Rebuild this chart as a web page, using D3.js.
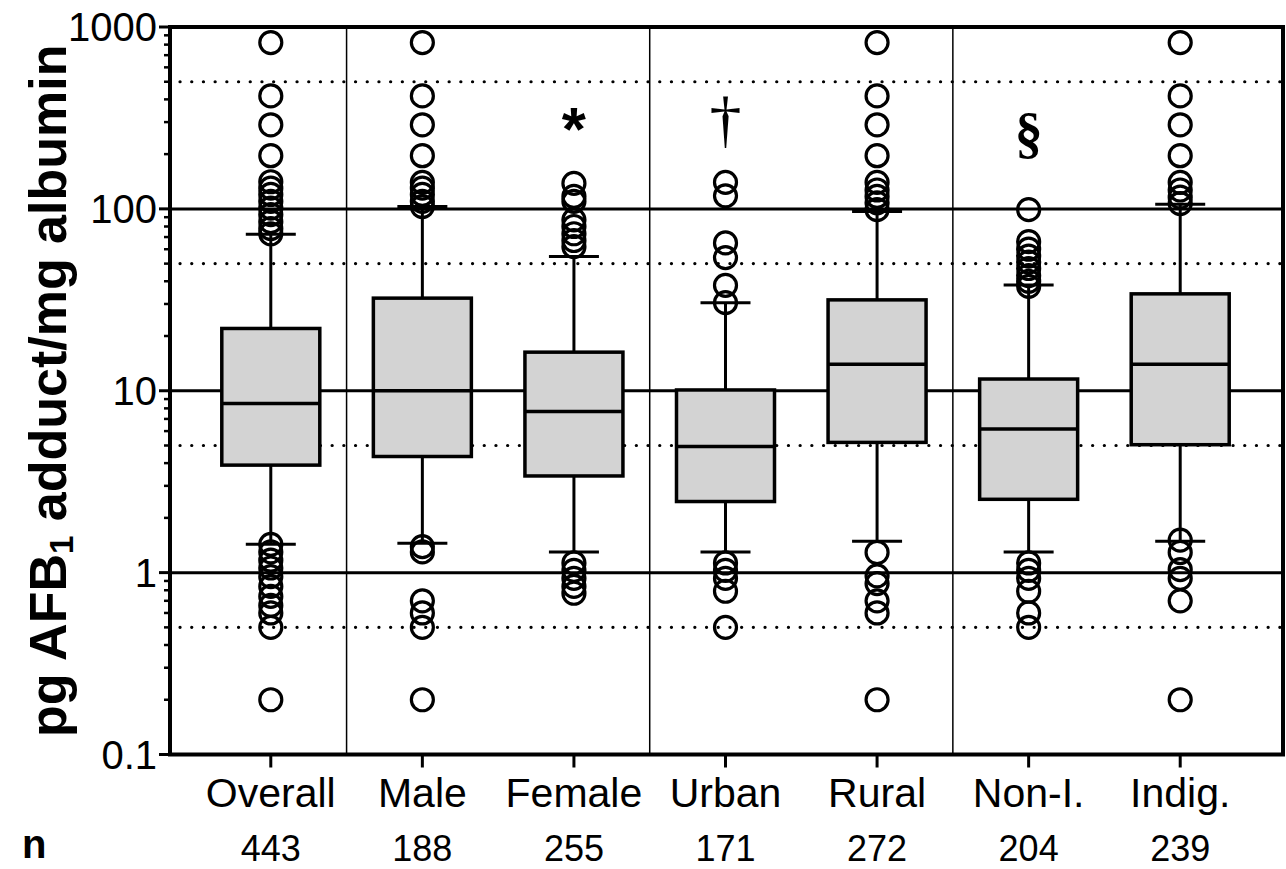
<!DOCTYPE html>
<html>
<head>
<meta charset="UTF-8" />
<title>AFB1 adduct box plot</title>
<script src="https://cdn.jsdelivr.net/npm/d3@7"></script>
<style>
  body, html { margin:0; padding:0; background:#fff; }
  svg text { font-family: "Liberation Sans", Arial, sans-serif; fill:#000; }
</style>
</head>
<body>
<svg id="chart" width="1286" height="869"></svg>
<script>
// ---- data ----
const categories = ["Overall", "Male", "Female", "Urban", "Rural", "Non-I.", "Indig."];
const nCounts    = [443, 188, 255, 171, 272, 204, 239];
const q1         = [3.9, 4.35, 3.4, 2.46, 5.2, 2.53, 5.05];
const medians    = [8.5, 10.0, 7.7, 4.93, 14.0, 6.17, 14.0];
const q3         = [22, 32.3, 16.3, 10.1, 31.6, 11.6, 34.1];
const whiskerLo  = [1.43, 1.45, 1.3, 1.3, 1.49, 1.3, 1.49];
const whiskerHi  = [72.6, 103, 54.7, 30.5, 96.7, 38.2, 106];
const outliersHi = [
  [821, 418, 290, 196, 141, 130, 120, 110, 101, 93, 85, 78, 73],
  [821, 418, 290, 196, 140, 130, 120, 110, 103],
  [138, 117, 110, 87, 80, 73, 67, 62],
  [140, 118, 65, 54, 38, 30.5],
  [821, 418, 290, 196, 140, 127, 117, 108, 99],
  [99, 66, 60, 55, 51, 47, 43, 40, 37.5],
  [821, 418, 290, 196, 140, 127, 116, 107]
];
const outliersLo = [
  [1.43, 1.3, 1.17, 1.06, 0.95, 0.84, 0.74, 0.66, 0.6, 0.5, 0.2],
  [1.39, 1.3, 0.7, 0.6, 0.5, 0.2],
  [1.13, 1.03, 0.93, 0.84, 0.77],
  [1.13, 1.03, 0.93, 0.79, 0.5],
  [1.29, 0.96, 0.87, 0.7, 0.6, 0.2],
  [1.13, 1.03, 0.93, 0.79, 0.6, 0.5],
  [1.51, 1.29, 1.04, 0.93, 0.7, 0.2]
];
const markers    = ["", "", "*", "\u2020", "", "\u00a7", ""];
const yTicks     = [0.1, 1, 10, 100, 1000];
const yTickText  = ["0.1", "1", "10", "100", "1000"];
const solidGrid  = [1, 10, 100];
const dottedGrid = [0.5, 5, 50, 500];
const separators = [0, 2, 4];   // a divider after these category indices

// ---- layout ----
const pLeft = 170, pRight = 1283, pTop = 27, pBottom = 754.5;
const svg = d3.select("#chart");

const y = d3.scaleLog().domain([0.1, 1000]).range([pBottom, pTop]);
const x = d3.scalePoint().domain(categories).range([pLeft, pRight - 2]).padding(0.665);
const boxHalf = 49, capHalf = 25, r = 11;

// gridlines
svg.append("g").selectAll("line").data(solidGrid).join("line")
  .attr("x1", pLeft).attr("x2", pRight)
  .attr("y1", d => y(d)).attr("y2", d => y(d))
  .attr("stroke", "#000").attr("stroke-width", 3);
svg.append("g").selectAll("line").data(dottedGrid).join("line")
  .attr("x1", pLeft + 10).attr("x2", pRight)
  .attr("y1", d => y(d)).attr("y2", d => y(d))
  .attr("stroke", "#000").attr("stroke-width", 3.2)
  .attr("stroke-linecap", "round").attr("stroke-dasharray", "0.1 11.6");

// group dividers
svg.append("g").selectAll("line").data(separators).join("line")
  .attr("x1", i => (x(categories[i]) + x(categories[i + 1])) / 2)
  .attr("x2", i => (x(categories[i]) + x(categories[i + 1])) / 2)
  .attr("y1", pTop).attr("y2", pBottom)
  .attr("stroke", "#000").attr("stroke-width", 1.5);

// boxes
const g = svg.append("g").selectAll("g").data(categories).join("g")
  .attr("transform", d => `translate(${x(d)},0)`);

g.append("line").attr("y1", (d, i) => y(whiskerHi[i])).attr("y2", (d, i) => y(q3[i]))
  .attr("stroke", "#000").attr("stroke-width", 3);
g.append("line").attr("y1", (d, i) => y(q1[i])).attr("y2", (d, i) => y(whiskerLo[i]))
  .attr("stroke", "#000").attr("stroke-width", 3);
g.append("line").attr("x1", -capHalf).attr("x2", capHalf)
  .attr("y1", (d, i) => y(whiskerHi[i])).attr("y2", (d, i) => y(whiskerHi[i]))
  .attr("stroke", "#000").attr("stroke-width", 3);
g.append("line").attr("x1", -capHalf).attr("x2", capHalf)
  .attr("y1", (d, i) => y(whiskerLo[i])).attr("y2", (d, i) => y(whiskerLo[i]))
  .attr("stroke", "#000").attr("stroke-width", 3);
g.append("rect").attr("x", -boxHalf).attr("width", boxHalf * 2)
  .attr("y", (d, i) => y(q3[i])).attr("height", (d, i) => y(q1[i]) - y(q3[i]))
  .attr("fill", "#d3d3d3").attr("stroke", "#000").attr("stroke-width", 3.5);
g.append("line").attr("x1", -boxHalf).attr("x2", boxHalf)
  .attr("y1", (d, i) => y(medians[i])).attr("y2", (d, i) => y(medians[i]))
  .attr("stroke", "#000").attr("stroke-width", 3.5);

g.selectAll("circle.hi").data((d, i) => outliersHi[i]).join("circle")
  .attr("class", "hi").attr("cy", v => y(v)).attr("r", r)
  .attr("fill", "none").attr("stroke", "#000").attr("stroke-width", 3.2);
g.selectAll("circle.lo").data((d, i) => outliersLo[i]).join("circle")
  .attr("class", "lo").attr("cy", v => y(v)).attr("r", r)
  .attr("fill", "none").attr("stroke", "#000").attr("stroke-width", 3.2);

// significance markers
g.filter((d, i) => markers[i] === "*").append("text")
  .attr("y", 150).attr("text-anchor", "middle")
  .style("font-size", "62px").style("font-weight", "bold")
  .text("*");
g.filter((d, i) => markers[i] === "\u2020").append("text")
  .attr("y", 141).attr("text-anchor", "middle")
  .style("font-family", "'Liberation Serif', 'Times New Roman', serif")
  .style("font-size", "64px")
  .text("\u2020");
g.filter((d, i) => markers[i] === "\u00a7").append("text")
  .attr("y", 152).attr("text-anchor", "middle")
  .style("font-family", "'Liberation Serif', 'Times New Roman', serif")
  .style("font-size", "56px").style("font-weight", "bold")
  .text("\u00a7");

// frame
svg.append("rect").attr("x", pLeft).attr("y", pTop)
  .attr("width", pRight - pLeft).attr("height", pBottom - pTop)
  .attr("fill", "none").attr("stroke", "#000").attr("stroke-width", 4);

// y axis ticks (major + minor)
const minor = [];
for (let e = -1; e < 3; e++) for (let k = 2; k <= 9; k++) minor.push(k * Math.pow(10, e));
svg.append("g").selectAll("line").data(minor).join("line")
  .attr("x1", pLeft - 6).attr("x2", pLeft)
  .attr("y1", d => y(d)).attr("y2", d => y(d))
  .attr("stroke", "#000").attr("stroke-width", 2.5);
svg.append("g").selectAll("line").data(yTicks).join("line")
  .attr("x1", pLeft - 11).attr("x2", pLeft)
  .attr("y1", d => y(d)).attr("y2", d => y(d))
  .attr("stroke", "#000").attr("stroke-width", 3);
svg.append("g").selectAll("text").data(yTicks).join("text")
  .attr("x", pLeft - 13).attr("y", d => y(d)).attr("dy", "0.36em")
  .attr("text-anchor", "end").style("font-size", "40px")
  .text((d, i) => yTickText[i]);

// x axis ticks and labels
svg.append("g").selectAll("line").data(categories).join("line")
  .attr("x1", d => x(d)).attr("x2", d => x(d))
  .attr("y1", pBottom).attr("y2", pBottom + 13)
  .attr("stroke", "#000").attr("stroke-width", 3);
svg.append("g").selectAll("text").data(categories).join("text")
  .attr("x", d => x(d)).attr("y", 807).attr("text-anchor", "middle")
  .style("font-size", "41px").text(d => d);
svg.append("g").selectAll("text").data(nCounts).join("text")
  .attr("x", (d, i) => x(categories[i])).attr("y", 861).attr("text-anchor", "middle")
  .style("font-size", "36px").text(d => d);
svg.append("text").attr("x", 22).attr("y", 858)
  .style("font-size", "40px").style("font-weight", "bold").text("n");

// y axis title
const title = svg.append("text")
  .attr("transform", `translate(66,${(pTop + pBottom) / 2}) rotate(-90)`)
  .attr("text-anchor", "middle")
  .style("font-size", "52px").style("font-weight", "bold");
title.append("tspan").text("pg AFB");
title.append("tspan").attr("dy", "0.22em").style("font-size", "33px").text("1");
title.append("tspan").attr("dy", "-0.14em").text(" adduct/mg albumin");
</script>
</body>
</html>
